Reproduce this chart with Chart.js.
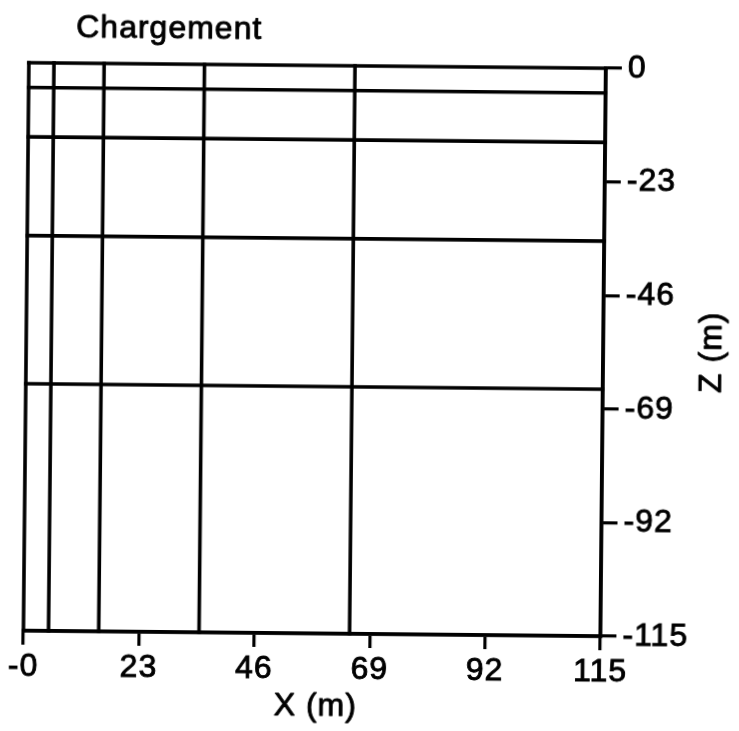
<!DOCTYPE html>
<html>
<head>
<meta charset="utf-8">
<script src="https://cdn.jsdelivr.net/npm/chart.js@4/dist/chart.umd.min.js"></script>
<style>
  html, body { margin: 0; padding: 0; background: #fff; overflow: hidden; }
  #wrap { width: 739px; height: 731px; transform: rotate(0.55deg); transform-origin: 369.5px 365.5px; }
  canvas { display: block; }
</style>
</head>
<body>
<div id="wrap"><canvas id="mesh" width="739" height="731"></canvas></div>
<script>
// Mesh node positions (m)
const xNodes = [0, 5, 15, 35, 65, 115];
const zNodes = [0, -5, -15, -35, -65, -115];

// Axis ticks and their labels
const xTicks = [0, 23, 46, 69, 92, 115];
const xTickLabels = ['-0', '23', '46', '69', '92', '115'];
const zTicks = [0, -23, -46, -69, -92, -115];
const zTickLabels = ['0', '-23', '-46', '-69', '-92', '-115'];

const chartTitle = 'Chargement';
const xTitle = 'X (m)';
const zTitle = 'Z (m)';

const FONT_FAMILY = '"Liberation Sans", Arial, Helvetica, sans-serif';
const FONT_SIZE = 32;
const TEXT_STROKE = 0.9;

const xMin = Math.min(...xNodes), xMax = Math.max(...xNodes);
const zMin = Math.min(...zNodes), zMax = Math.max(...zNodes);

const lineStyle = {
  showLine: true,
  borderColor: '#000',
  borderWidth: 3.6,
  borderCapStyle: 'square',
  pointRadius: 0,
  fill: false,
  clip: 4
};

// One dataset per mesh line: verticals at each x node, horizontals at each z node
const datasets = [
  ...xNodes.map(x => ({ ...lineStyle, label: 'x=' + x, data: [{ x: x, y: zMax }, { x: x, y: zMin }] })),
  ...zNodes.map(z => ({ ...lineStyle, label: 'z=' + z, data: [{ x: xMin, y: z }, { x: xMax, y: z }] }))
];

function drawLabel(ctx, text, x, y) {
  ctx.fillText(text, x, y);
  ctx.strokeText(text, x, y);
}

// Chart title, X title under the axis and the rotated Z title on the right
const meshText = {
  id: 'meshText',
  beforeDraw(chart) {
    chart.ctx.letterSpacing = '1px';
  },
  afterDraw(chart) {
    const ctx = chart.ctx;
    const a = chart.chartArea;
    ctx.save();
    ctx.fillStyle = '#000';
    ctx.strokeStyle = '#000';
    ctx.lineWidth = TEXT_STROKE;
    ctx.lineJoin = 'round';
    ctx.font = FONT_SIZE + 'px ' + FONT_FAMILY;
    ctx.textAlign = 'left';
    ctx.textBaseline = 'alphabetic';
    drawLabel(ctx, chartTitle, a.left + 47, a.top - 26);

    ctx.textAlign = 'center';
    ctx.textBaseline = 'middle';
    drawLabel(ctx, xTitle, (a.left + a.right) / 2 + 4, a.bottom + 73);

    ctx.translate(a.right + 109, (a.top + a.bottom) / 2 - 1);
    ctx.rotate(-Math.PI / 2);
    drawLabel(ctx, zTitle, 0, 0);
    ctx.restore();
  }
};

Chart.defaults.font.family = FONT_FAMILY;
Chart.defaults.font.size = FONT_SIZE;
Chart.defaults.color = '#000';

new Chart(document.getElementById('mesh'), {
  type: 'scatter',
  data: { datasets: datasets },
  options: {
    responsive: false,
    animation: false,
    devicePixelRatio: 1,
    layout: { padding: { left: 26, top: 66, right: 0, bottom: 0 } },
    plugins: {
      legend: { display: false },
      tooltip: { enabled: false },
      title: { display: false }
    },
    scales: {
      x: {
        type: 'linear',
        position: 'bottom',
        min: xMin,
        max: xMax,
        afterBuildTicks: s => { s.ticks = xTicks.map(v => ({ value: v })); },
        afterFit: s => { s.height = 97; },
        ticks: {
          padding: 3,
          maxRotation: 0,
          autoSkip: false,
          textStrokeColor: '#000',
          textStrokeWidth: TEXT_STROKE,
          callback: (v) => xTickLabels[xTicks.indexOf(v)]
        },
        grid: { drawOnChartArea: false, drawTicks: true, tickLength: 14, color: '#000', lineWidth: 3.2 },
        border: { display: true, color: '#000', width: 3.6 }
      },
      y: {
        type: 'linear',
        position: 'right',
        min: zMin,
        max: zMax,
        afterBuildTicks: s => { s.ticks = zTicks.map(v => ({ value: v })); },
        afterFit: s => { s.width = 136; },
        ticks: {
          padding: 6,
          autoSkip: false,
          textStrokeColor: '#000',
          textStrokeWidth: TEXT_STROKE,
          callback: (v) => zTickLabels[zTicks.indexOf(v)]
        },
        grid: { drawOnChartArea: false, drawTicks: true, tickLength: 16, color: '#000', lineWidth: 3.2 },
        border: { display: true, color: '#000', width: 3.6 }
      }
    }
  },
  plugins: [meshText]
});
</script>
</body>
</html>
